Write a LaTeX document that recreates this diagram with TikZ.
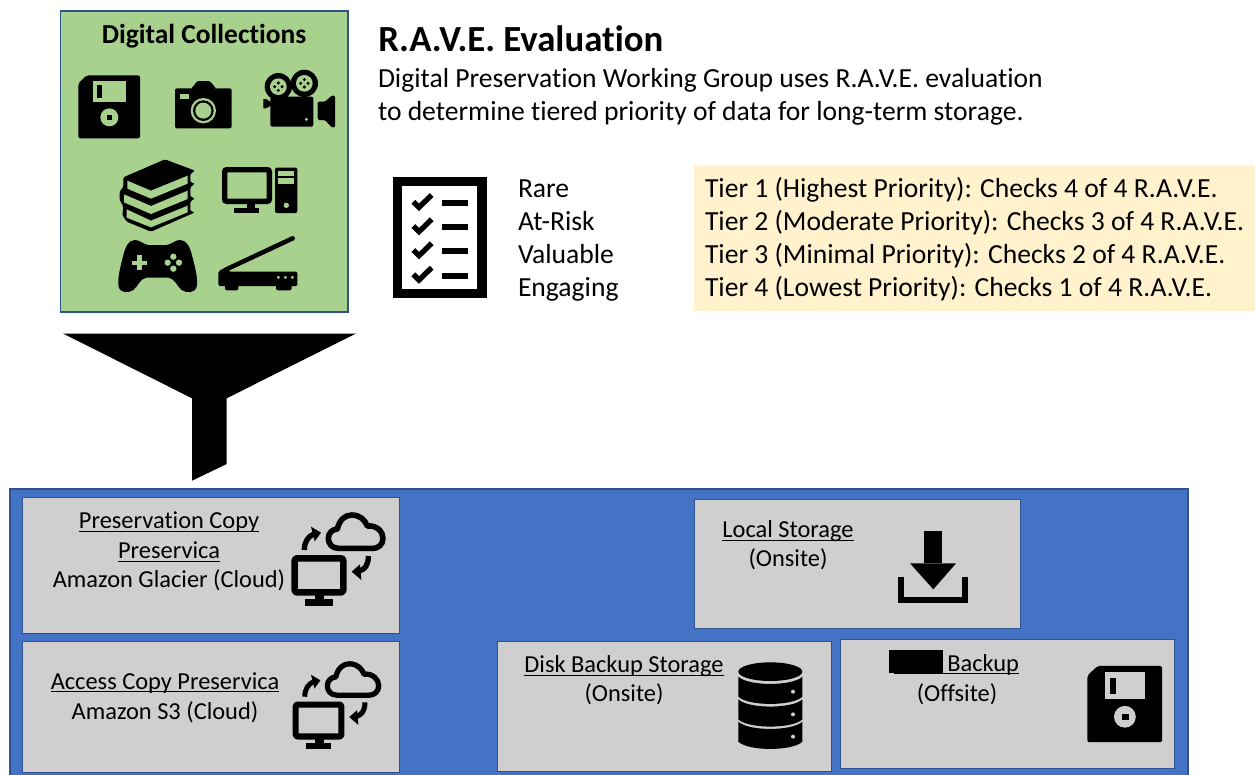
\documentclass[tikz,border=0pt]{standalone}
\usepackage{fontspec}
\setmainfont[Ligatures=NoCommon]{Carlito}
\definecolor{panelblue}{HTML}{4472C4}
\definecolor{edgeblue}{HTML}{2F528F}
\definecolor{boxgrey}{HTML}{D0CECE}
\definecolor{leafgreen}{HTML}{A9D18E}
\definecolor{tiercream}{HTML}{FFF2CC}
\newcommand\ulbox[1]{\leavevmode\setbox0=\hbox{#1}\rlap{\rule[-2.4pt]{\wd0}{0.9pt}}\box0}
\newcommand\zoomscope[3]{\begin{scope}[shift={(#1,#2)},x=#3*0.25pt,y=-#3*0.25pt]}
% floppy: bg colour, x, y, scale
\newcommand\floppyicon[4]{\zoomscope{#2}{#3}{#4}
  \fill[black,rounded corners=1.5pt] (80,196) -- (240,196) -- (240,385) -- (55,385) -- (55,220) -- cycle;
  \fill[#1] (99,212) rectangle (197,277);
  \fill[black] (110,225) rectangle (127,265);
  \fill[#1] (148,322) circle (27);
  \fill[black] (140,314) rectangle (157,330);
\end{scope}}
% monitor and cloud: x, y, scale
\newcommand\cloudicon[3]{\zoomscope{#1}{#2}{#3}
  \begin{scope}[black,line join=round]
  \draw[line width=#3*4.8pt,rounded corners=1.5pt] (44,175) rectangle (190,277);
  \fill (105,285) rectangle (133,300);
  \fill (76,298) rectangle (158,318);
  \draw[line width=#3*4.2pt] (175,145) .. controls (155,145) and (145,130) .. (145,115) .. controls (145,98) and (158,88) .. (172,87) .. controls (178,60) and (195,45) .. (215,45) .. controls (240,45) and (255,60) .. (262,78) .. controls (290,75) and (309,95) .. (309,115) .. controls (309,133) and (295,145) .. (280,145) -- cycle;
  \draw[line width=#3*4pt] (73,150) .. controls (73,125) and (85,108) .. (102,102);
  \fill (93,80) -- (123,98) -- (104,124) -- cycle;
  \draw[line width=#3*4pt] (265,168) .. controls (265,195) and (255,208) .. (238,213);
  \fill (215,215) -- (240,193) -- (244,240) -- cycle;
  \end{scope}
\end{scope}}
\tikzset{
  boxtext/.style={inner sep=0pt,outer sep=0pt,yshift=-0.75pt,font=\fontsize{18.3pt}{22pt}\selectfont,anchor=base,black},
  bodytext/.style={inner sep=0pt,outer sep=0pt,yshift=-0.75pt,font=\fontsize{20.7pt}{24pt}\selectfont,anchor=base west,black},
  greybox/.style={fill=boxgrey,draw=edgeblue,line width=0.75pt},
}
\begin{document}
\begin{tikzpicture}[x=0.75pt,y=-0.75pt]
\useasboundingbox (0,0) rectangle (1255,774);
\clip (0,0) rectangle (1255,774);
\fill[white] (0,0) rectangle (1255,774);
% green panel
\path[fill=leafgreen,draw=edgeblue,line width=1pt] (60.5,11) rectangle (348,312);
\node[inner sep=0pt,anchor=base,font=\fontsize{20.6pt}{24pt}\selectfont\bfseries] (collections) at (204,44) {Digital Collections};
\floppyicon{leafgreen}{60}{10}{1}
% camera
\zoomscope{165}{65}{1}
  \fill[black,rounded corners=1.5pt] (30,70) rectangle (200,190);
  \fill[black,rounded corners=1pt] (78,72) -- (97,48) -- (135,48) -- (154,72) -- cycle;
  \fill[leafgreen] (45,87) rectangle (72,103);
  \fill[leafgreen] (115,137) circle (38);
  \fill[black] (115,137) circle (31);
  \fill[leafgreen] (115,137) circle (24);
\end{scope}
% movie camera
\zoomscope{165}{65}{1}
  \fill[black] (340,65) circle (41);
  \fill[black] (418,55) circle (41);
  \fill[leafgreen] (340,65) circle (25);
  \fill[leafgreen] (418,55) circle (25);
  \foreach \cx/\cy in {340/65,418/55}{
    \fill[black] (\cx-11,\cy) circle (5);
    \fill[black] (\cx+11,\cy) circle (5);
    \fill[black] (\cx,\cy-11) circle (5);
    \fill[black] (\cx,\cy+11) circle (5);
  }
  \fill[black,rounded corners=1.5pt] (316,95) rectangle (445,185);
  \fill[black] (295,102) -- (303,102) -- (318,112) -- (318,122) -- (303,130) -- (295,130) -- cycle;
  \fill[black,rounded corners=1pt] (458,110) -- (480,110) -- (500,92) -- (510,92) -- (510,187) -- (500,187) -- (480,165) -- (458,165) -- cycle;
  \fill[leafgreen] (424,163) circle (5);
\end{scope}
% books and controller
\zoomscope{115}{150}{1}
  \fill[black,rounded corners=1pt] (25,82) -- (150,28) -- (240,62) -- (226,72) -- (226,97) -- (240,100) -- (226,112) -- (226,140) -- (240,145) -- (226,155) -- (226,183) -- (240,187) -- (108,245) -- (35,215) -- (22,195) -- (25,170) -- (14,150) -- (14,125) -- (25,110) -- cycle;
  \fill[leafgreen] (37,92) -- (108,122) -- (218,77) -- (218,101) -- (108,146) -- (37,116) -- cycle;
  \fill[leafgreen] (27,133) -- (108,168) -- (218,122) -- (218,147) -- (108,192) -- (27,157) -- cycle;
  \fill[leafgreen] (35,178) -- (108,212) -- (218,167) -- (218,187) -- (108,232) -- (35,203) -- cycle;
  \fill[black] (60,270) .. controls (75,270) and (85,283) .. (100,285) -- (155,285) .. controls (170,283) and (180,270) .. (195,270) .. controls (215,270) and (225,290) .. (232,320) .. controls (240,350) and (250,390) .. (245,410) .. controls (240,430) and (215,430) .. (200,420) .. controls (185,408) and (180,385) .. (160,383) -- (95,383) .. controls (75,385) and (70,408) .. (55,420) .. controls (40,430) and (16,430) .. (11,410) .. controls (6,390) and (16,350) .. (24,320) .. controls (31,290) and (40,270) .. (60,270) -- cycle;
  \fill[leafgreen] (50,332) rectangle (97,345);
  \fill[leafgreen] (67,315) rectangle (80,360);
  \foreach \cx/\cy in {175/320,175/356,158/338,192/338}{\fill[leafgreen] (\cx,\cy) circle (9.5);}
\end{scope}
% computer and scanner
\zoomscope{210}{155}{1}
  \draw[black,line width=4pt,rounded corners=1.5pt] (44,44) rectangle (178,139);
  \fill[black] (110,145) rectangle (135,160);
  \fill[black] (73,158) rectangle (148,174);
  \fill[black,rounded corners=1.5pt] (195,38) rectangle (262,174);
  \fill[leafgreen] (205,48) rectangle (253,62);
  \fill[leafgreen] (205,70) rectangle (253,86);
  \fill[leafgreen] (229,151) circle (8);
  \draw[black,line width=3.4pt,line cap=round] (45,345) -- (248,250);
  \fill[black,rounded corners=1pt] (25,350) -- (40,340) -- (60,350) -- (262,350) -- (262,393) -- (25,393) -- cycle;
  \fill[black,rounded corners=1.5pt] (45,385) rectangle (85,406);
  \fill[black,rounded corners=1.5pt] (198,385) rectangle (245,406);
  \foreach \cx in {205,226,247}{\fill[leafgreen] (\cx,367) circle (5);}
\end{scope}
% heading
\node[inner sep=0pt,anchor=base west,font=\fontsize{27.6pt}{32pt}\selectfont\bfseries] (title) at (378,52) {R.A.V.E. Evaluation};
\node[bodytext] (introa) at (378,86) {Digital Preservation Working Group uses R.A.V.E. evaluation};
\node[bodytext] (introb) at (378,119) {to determine tiered priority of data for long-term storage.};
% checklist
\zoomscope{380}{160}{1}
  \fill[black] (38,52) rectangle (320,415);
  \fill[white] (65,78) rectangle (292,388);
  \foreach \dy in {0,73,145,218}{
    \draw[black,line width=4pt] (100,125+\dy) -- (117,142+\dy) -- (155,105+\dy);
    \fill[black] (187,120+\dy) rectangle (265,138+\dy);
  }
\end{scope}
\node[bodytext] (rare) at (518,196.5) {Rare};
\node[bodytext] (risk) at (518,229.5) {At-Risk};
\node[bodytext] (valuable) at (518,262.5) {Valuable};
\node[bodytext] (engaging) at (518,295.5) {Engaging};
% tiers
\fill[tiercream] (694,165) rectangle (1255,311);
\node[bodytext] (tiera) at (705,196) {Tier 1 (Highest Priority): Checks 4 of 4 R.A.V.E.};
\node[bodytext] (tierb) at (705,229) {Tier 2 (Moderate Priority): Checks 3 of 4 R.A.V.E.};
\node[bodytext] (tierc) at (705,262) {Tier 3 (Minimal Priority): Checks 2 of 4 R.A.V.E.};
\node[bodytext] (tierd) at (705,295) {Tier 4 (Lowest Priority): Checks 1 of 4 R.A.V.E.};
% funnel
\fill[black] (63,333.5) -- (356,333.5) -- (226.7,398.3) -- (226.7,464) -- (192,480.7) -- (192,398.3) -- cycle;
% storage panel
\path[fill=panelblue,draw=edgeblue,line width=1pt] (10,489) rectangle (1188,780);
\path[greybox] (22,497) rectangle (399,633);
\path[greybox] (22,641) rectangle (399,772);
\path[greybox] (694,499) rectangle (1020,628);
\path[greybox] (497,641) rectangle (831,771);
\path[greybox] (840,639) rectangle (1174,768);
\node[boxtext] (presa) at (169,527.7) {\ulbox{Preservation Copy}};
\node[boxtext] (presb) at (169,557.7) {\ulbox{Preservica}};
\node[boxtext] (presc) at (169,586.7) {Amazon Glacier (Cloud)};
\node[boxtext] (acca) at (165,688) {\ulbox{Access Copy Preservica}};
\node[boxtext] (accb) at (165,718) {Amazon S3 (Cloud)};
\node[boxtext] (loca) at (788,536.7) {\ulbox{Local Storage}};
\node[boxtext] (locb) at (788,565) {(Onsite)};
\node[boxtext] (diska) at (624,671.5) {\ulbox{Disk Backup Storage}};
\node[boxtext] (diskb) at (624,700.5) {(Onsite)};
\node[boxtext,anchor=base east] (offa) at (1019,670) {\ulbox{\hspace{40pt}Backup}};
\fill[black] (889,650) rectangle (942.7,673);
\node[boxtext] (offb) at (957,700) {(Offsite)};
\cloudicon{280}{500}{1}
\cloudicon{281.9}{649.7}{0.94}
% download icon and database
\zoomscope{720}{520}{1}
  \fill[black] (612,33) rectangle (667,130);
  \fill[black] (570,130) -- (708,130) -- (640,208) -- cycle;
  \draw[black,line width=5pt,line join=miter] (543,170) -- (543,240) -- (735,240) -- (735,170);
  \fill[black] (151,455) ellipse (96 and 28);
  \foreach \dy in {0,68,135}{
    \fill[black] (55,470+\dy) .. controls (85,499+\dy) and (217,499+\dy) .. (247,470+\dy) -- (247,530+\dy) .. controls (217,559+\dy) and (85,559+\dy) .. (55,530+\dy) -- cycle;
    \fill[boxgrey] (219,515+\dy) circle (6);
  }
\end{scope}
\floppyicon{boxgrey}{1065.2}{586.9}{1.21}
\end{tikzpicture}
\end{document}
